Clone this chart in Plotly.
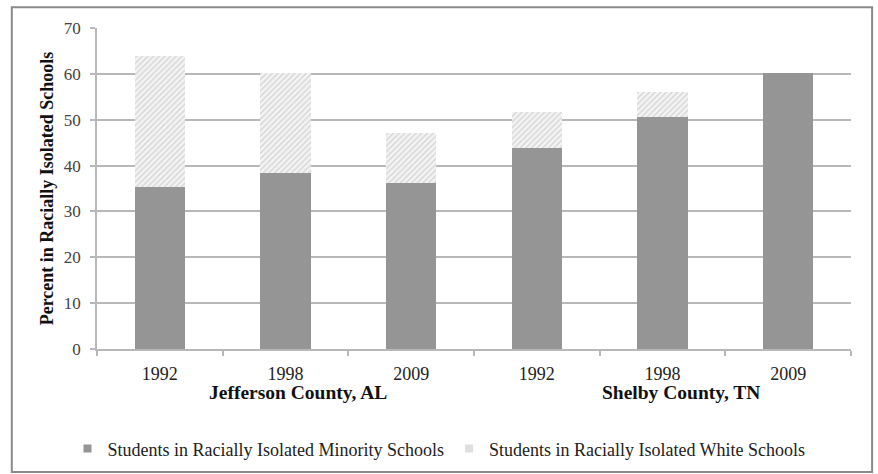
import plotly.graph_objects as go

# Percent of students in racially isolated schools, by county and year
counties = ["Jefferson County, AL", "Shelby County, TN"]
years = ["1992", "1998", "2009", "1992", "1998", "2009"]
minority_pct = [35.4, 38.3, 36.2, 43.9, 50.5, 60.1]
white_pct = [28.6, 21.8, 10.9, 7.8, 5.6, 0.0]

series_names = [
    "Students in Racially Isolated Minority Schools",
    "Students in Racially Isolated White Schools",
]

positions = list(range(len(years)))
serif = "Liberation Serif, Times New Roman, serif"
dark_gray = "#959595"
grid_gray = "#b8b8b8"

fig = go.Figure()

fig.add_trace(go.Bar(
    x=positions, y=minority_pct, width=0.4,
    marker=dict(color=dark_gray, line=dict(width=0)),
    showlegend=False, name=series_names[0],
))
fig.add_trace(go.Bar(
    x=positions, y=white_pct, width=0.4,
    marker=dict(
        color="white", line=dict(width=0),
        pattern=dict(shape="/", fgcolor="#b4b4b4", bgcolor="#f4f4f4",
                     size=4, solidity=0.35),
    ),
    showlegend=False, name=series_names[1],
))

# Small square swatches for the legend
fig.add_trace(go.Scatter(
    x=[None], y=[None], mode="markers", name=series_names[0],
    marker=dict(symbol="square", size=8, color=dark_gray),
))
fig.add_trace(go.Scatter(
    x=[None], y=[None], mode="markers", name=series_names[1],
    marker=dict(symbol="square", size=8, color="#dedede"),
))

# County group labels under the year labels
group_x = [1.1, 4.15]
for cx, county in zip(group_x, counties):
    fig.add_annotation(
        x=cx, xref="x", y=-0.134, yref="paper", yanchor="middle",
        text=f"<b>{county}</b>", showarrow=False,
        font=dict(family=serif, size=19.5, color="#111"),
    )

# Outer frame around the whole chart
fig.add_shape(
    type="rect", xref="paper", yref="paper",
    x0=-0.113, x1=1.028, y0=-0.383, y1=1.065,
    line=dict(color="#8a8a8a", width=2), fillcolor="rgba(0,0,0,0)",
    layer="below",
)

fig.update_layout(
    width=878, height=474,
    margin=dict(l=97, r=27, t=28, b=125, autoexpand=False),
    paper_bgcolor="white", plot_bgcolor="white",
    barmode="stack",
    font=dict(family=serif, size=16, color="#333"),
    legend=dict(
        orientation="h", traceorder="normal",
        xref="container", yref="container",
        x=0.5, xanchor="center", y=0.053, yanchor="middle",
        font=dict(family=serif, size=18, color="#222"),
        itemwidth=30, tracegroupgap=0,
    ),
    xaxis=dict(
        range=[-0.5, len(years) - 0.5],
        tickvals=positions, ticktext=years, ticks="",
        tickfont=dict(family=serif, size=18, color="#222"),
        ticklabelstandoff=8,
        showline=True, linecolor=grid_gray, linewidth=1.5,
        showgrid=False, zeroline=False, automargin=False,
        minor=dict(
            tickvals=[p - 0.5 for p in positions] + [len(years) - 0.5],
            ticks="outside", ticklen=5, tickcolor=grid_gray, tickwidth=1.5,
            showgrid=False,
        ),
    ),
    yaxis=dict(
        range=[0, 70], dtick=10, tick0=0,
        ticks="outside", ticklen=5, tickcolor=grid_gray, tickwidth=1.5,
        tickfont=dict(family=serif, size=17, color="#444"),
        ticklabelstandoff=6, automargin=False,
        showline=True, linecolor=grid_gray, linewidth=1.5,
        showgrid=True, gridcolor=grid_gray, gridwidth=1.5,
        zeroline=False,
        title=dict(
            text="<b>Percent in Racially Isolated Schools</b>",
            font=dict(family=serif, size=18, color="#111"),
            standoff=6,
        ),
    ),
)

fig.write_html("out.html")
